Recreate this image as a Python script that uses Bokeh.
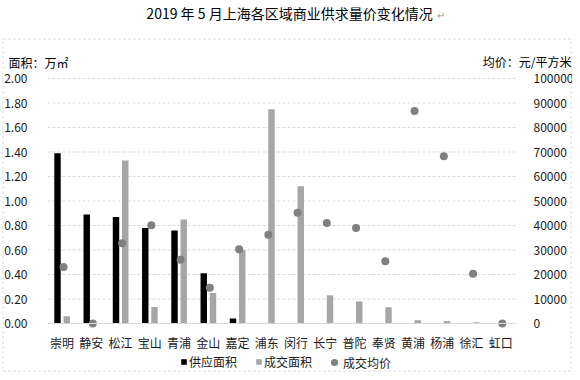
from bokeh.plotting import figure
from bokeh.models import (ColumnDataSource, Range1d, LinearAxis, FixedTicker,
                          NumeralTickFormatter, Label, Legend, LegendItem, BoxAnnotation)
from bokeh.transform import dodge
from bokeh.embed import file_html
from bokeh.resources import INLINE

districts = ["崇明", "静安", "松江", "宝山", "青浦", "金山", "嘉定", "浦东",
             "闵行", "长宁", "普陀", "奉贤", "黄浦", "杨浦", "徐汇", "虹口"]
supply_area = [1.39, 0.89, 0.87, 0.78, 0.76, 0.41, 0.04, 0, 0, 0, 0, 0, 0, 0, 0, 0]
deal_area = [0.06, 0, 1.33, 0.135, 0.85, 0.25, 0.60, 1.75, 1.12, 0.23, 0.18, 0.133, 0.027, 0.02, 0.01, 0]
avg_price = [23100, 0, 32800, 40100, 26000, 14600, 30300, 36200, 45200, 41000, 39000, 25400,
             86700, 68300, 20300, 0]
area_ticks = [0, 0.2, 0.4, 0.6, 0.8, 1.0, 1.2, 1.4, 1.6, 1.8, 2.0]
price_ticks = [0, 10000, 20000, 30000, 40000, 50000, 60000, 70000, 80000, 90000, 100000]
AREA_MAX = 2.0
PRICE_MAX = 100000

FONT = "Noto Sans CJK SC"
TXT = "#1a1a1a"

# ---- layout (canvas pixels) ----
W, H = 572, 372
PL, PR, PT, PB = 47, 515, 78, 323          # plot area
n = len(districts)
cw = (PR - PL) / n                          # px per category
ah = (PB - PT) / AREA_MAX                   # px per area unit


def X(px):
    return (px - PL) / cw - 0.5


def Y(py):
    return (PB - py) / ah


def YP(py):
    return Y(py) * PRICE_MAX / AREA_MAX


pos = list(range(n))
src = ColumnDataSource(dict(x=pos, supply=supply_area, deal=deal_area, price=avg_price))

p = figure(width=W, height=H, x_range=Range1d(X(0), X(W)), y_range=Range1d(Y(H), Y(0)),
           output_backend="svg", toolbar_location=None, title=None,
           x_axis_location=None, y_axis_location=None,
           min_border=0, min_border_left=0, min_border_right=0, min_border_top=0, min_border_bottom=0)
p.extra_y_ranges = {"price": Range1d(YP(H), YP(0))}
p.outline_line_color = None
p.background_fill_color = "white"
p.border_fill_color = "white"
p.xgrid.visible = False
p.ygrid.visible = False

# grid lines from the tick values
gt = area_ticks[1:]
p.segment(x0=[X(PL)] * len(gt), x1=[X(PR)] * len(gt), y0=gt, y1=gt,
          line_color="#d9d9d9", line_width=1, line_dash="3 2")

r1 = p.vbar(x=dodge("x", -0.158), top="supply", width=0.22, source=src,
            fill_color="#000000", line_color=None)
r2 = p.vbar(x=dodge("x", 0.158), top="deal", width=0.22, source=src,
            fill_color="#a6a6a6", line_color=None)
r3 = p.scatter(x=dodge("x", 0.05), y="price", y_range_name="price", size=8,
               source=src, fill_color="#808080", line_color=None)

# left axis (area)
la = LinearAxis(fixed_location=X(PL), ticker=FixedTicker(ticks=area_ticks),
                formatter=NumeralTickFormatter(format="0.00"))
# right axis (price)
ra = LinearAxis(y_range_name="price", fixed_location=X(PR), ticker=FixedTicker(ticks=price_ticks),
                formatter=NumeralTickFormatter(format="0"))
# bottom axis (districts)
ba = LinearAxis(fixed_location=0, ticker=FixedTicker(ticks=pos),
                major_label_overrides={i: d for i, d in enumerate(districts)},
                bounds=(X(PL), X(PR)))
for ax, so in ((la, 14), (ra, 12), (ba, 4)):
    ax.axis_line_color = None
    ax.major_tick_line_color = None
    ax.minor_tick_line_color = None
    ax.major_label_standoff = so
    ax.major_label_text_font = FONT
    ax.major_label_text_font_size = "12px"
    ax.major_label_text_color = TXT
ba.axis_line_color = "#d9d9d9"
ba.axis_line_width = 1
p.add_layout(la, "left")
p.add_layout(ra, "right")
p.add_layout(ba, "below")

# dashed chart border
p.add_layout(BoxAnnotation(left=X(2.5), right=X(570.5), top=Y(38.5), bottom=Y(370.5),
                           fill_alpha=0, line_color="#8c8c8c", line_dash="3 2", line_width=1,
                           level="underlay"))

p.add_layout(Label(x=X(289), y=Y(12), text="2019 年 5 月上海各区域商业供求量价变化情况",
                   text_font=FONT, text_font_size="14px", text_color="#000000",
                   text_align="center", text_baseline="middle"))
p.add_layout(Label(x=X(436), y=Y(14), text="↵",
                   text_font=FONT, text_font_size="10px", text_color="#a0a0a0",
                   text_align="left", text_baseline="middle"))
p.add_layout(Label(x=X(8), y=Y(62), text="面积：万㎡",
                   text_font=FONT, text_font_size="12px", text_color="#000000",
                   text_align="left", text_baseline="middle"))
p.add_layout(Label(x=X(571), y=Y(61), text="均价：元/平方米",
                   text_font=FONT, text_font_size="12px", text_color="#000000",
                   text_align="right", text_baseline="middle"))

common = dict(orientation="horizontal", padding=0, margin=0, border_line_color=None,
              background_fill_alpha=0, label_text_font=FONT, label_text_font_size="12px",
              label_text_color=TXT)
legend_bars = Legend(items=[LegendItem(label="供应面积", renderers=[r1]),
                            LegendItem(label="成交面积", renderers=[r2])],
                     location=(180, 2), glyph_width=7, glyph_height=7, label_standoff=2,
                     spacing=18, **common)
legend_dot = Legend(items=[LegendItem(label="成交均价", renderers=[r3])],
                    location=(325, 1), glyph_width=18, glyph_height=18, label_standoff=0,
                    **common)
p.add_layout(legend_bars)
p.add_layout(legend_dot)

open("out.html", "w").write(file_html(p, INLINE))
